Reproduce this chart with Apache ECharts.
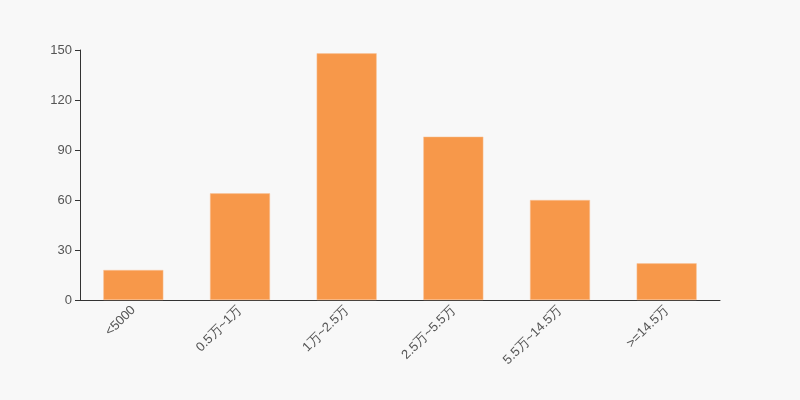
<!DOCTYPE html>
<html><head><meta charset="utf-8">
<script src="https://cdn.jsdelivr.net/npm/echarts@6/dist/echarts.min.js"></script>
<style>html,body{margin:0;padding:0;background:#f8f8f8}#c{width:800px;height:400px}</style>
</head><body><div id="c"></div>
<script>
var categories = ['<5000', '0.5万~1万', '1万~2.5万', '2.5万~5.5万', '5.5万~14.5万', '>=14.5万'];
var values = [18, 64, 148, 98, 60, 22];
var yTicks = {min: 0, max: 150, interval: 30};

var chart = echarts.init(document.getElementById('c'), null, {renderer: 'canvas'});
chart.setOption({
  backgroundColor: '#f8f8f8',
  animation: false,
  grid: {left: 80, right: 80, top: 50, bottom: 100},
  xAxis: {
    type: 'category',
    data: categories,
    axisLine: {lineStyle: {color: '#333'}},
    axisTick: {lineStyle: {color: '#333'}},
    axisLabel: {rotate: 45, color: '#555', fontSize: 13, fontFamily: 'Arial, Liberation Sans, sans-serif', interval: 0}
  },
  yAxis: {
    type: 'value',
    min: yTicks.min, max: yTicks.max, interval: yTicks.interval,
    axisLine: {show: true, lineStyle: {color: '#333'}},
    axisTick: {show: true, lineStyle: {color: '#333'}},
    splitLine: {show: false},
    axisLabel: {color: '#555', fontSize: 13, fontFamily: 'Arial, Liberation Sans, sans-serif'}
  },
  series: [{
    type: 'bar',
    data: values,
    barWidth: 60,
    itemStyle: {color: '#f7984a', borderColor: '#f9c49c', borderWidth: 0.5}
  }]
});
</script></body></html>
